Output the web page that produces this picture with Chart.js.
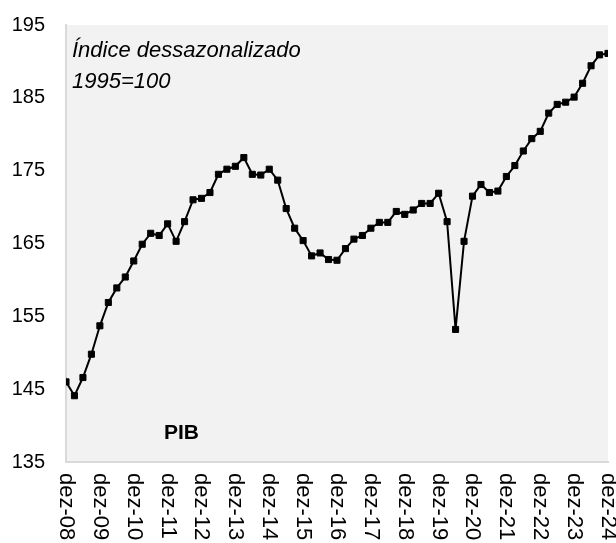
<!DOCTYPE html>
<html>
<head>
<meta charset="utf-8">
<script src="https://cdn.jsdelivr.net/npm/chart.js@4.4.1/dist/chart.umd.min.js"></script>
<style>
  html, body { margin: 0; padding: 0; background: #fff; }
  #caixa { width: 616px; height: 543px; }
</style>
</head>
<body>
<div id="caixa"><canvas id="pibChart"></canvas></div>
<script>
// trimestres (o primeiro fica fora do eixo, só a linha entra pela esquerda)
const trimestres = [
  "set-08", "dez-08",
  "mar-09", "jun-09", "set-09", "dez-09",
  "mar-10", "jun-10", "set-10", "dez-10",
  "mar-11", "jun-11", "set-11", "dez-11",
  "mar-12", "jun-12", "set-12", "dez-12",
  "mar-13", "jun-13", "set-13", "dez-13",
  "mar-14", "jun-14", "set-14", "dez-14",
  "mar-15", "jun-15", "set-15", "dez-15",
  "mar-16", "jun-16", "set-16", "dez-16",
  "mar-17", "jun-17", "set-17", "dez-17",
  "mar-18", "jun-18", "set-18", "dez-18",
  "mar-19", "jun-19", "set-19", "dez-19",
  "mar-20", "jun-20", "set-20", "dez-20",
  "mar-21", "jun-21", "set-21", "dez-21",
  "mar-22", "jun-22", "set-22", "dez-22",
  "mar-23", "jun-23", "set-23", "dez-23",
  "mar-24", "jun-24", "set-24", "dez-24"
];

const pib = [
  152.0, 146.0,
  144.1, 146.6, 149.8, 153.7,
  156.9, 158.9, 160.4, 162.6,
  164.9, 166.4, 166.1, 167.7,
  165.3, 168.0, 171.0, 171.2,
  172.0, 174.5, 175.2, 175.6,
  176.8, 174.5, 174.4, 175.2,
  173.7, 169.8, 167.1, 165.4,
  163.3, 163.7, 162.8, 162.7,
  164.3, 165.6, 166.1, 167.1,
  167.9, 167.9, 169.4, 169.0,
  169.6, 170.5, 170.5, 171.9,
  168.0, 153.2, 165.3, 171.5,
  173.1, 172.0, 172.2, 174.2,
  175.7, 177.7, 179.4, 180.4,
  182.9, 184.1, 184.4, 185.1,
  187.0, 189.4, 190.9, 191.1
];

const rotulosX = [
  "dez-08", "dez-09", "dez-10", "dez-11", "dez-12", "dez-13", "dez-14", "dez-15", "dez-16",
  "dez-17", "dez-18", "dez-19", "dez-20", "dez-21", "dez-22", "dez-23", "dez-24"
];

const eixoYMin = 135;
const eixoYMax = 195;
const eixoYPasso = 10;

const fonte = "Arial, 'Liberation Sans', sans-serif";

// fundo cinza da área do gráfico
const fundo = {
  id: "fundo",
  beforeDraw(chart) {
    const a = chart.chartArea;
    const ctx = chart.ctx;
    ctx.save();
    ctx.fillStyle = "#f2f2f2";
    ctx.fillRect(a.left, a.top, a.right - a.left, a.bottom - a.top);
    ctx.restore();
  }
};

// rótulos do eixo x girados no sentido horário, como no Excel
const rotulosVerticais = {
  id: "rotulosVerticais",
  afterDraw(chart) {
    const ctx = chart.ctx;
    const x = chart.scales.x;
    ctx.save();
    ctx.font = "22px " + fonte;
    ctx.fillStyle = "#000";
    ctx.textAlign = "left";
    ctx.textBaseline = "middle";
    rotulosX.forEach(r => {
      const px = x.getPixelForValue(trimestres.indexOf(r));
      ctx.save();
      ctx.translate(px, chart.chartArea.bottom + 11);
      ctx.rotate(Math.PI / 2);
      ctx.fillText(r, 0, 0);
      ctx.restore();
    });
    ctx.restore();
  }
};

const textos = {
  id: "textos",
  afterDraw(chart) {
    const ctx = chart.ctx;
    const a = chart.chartArea;
    ctx.save();
    ctx.fillStyle = "#000";
    ctx.textAlign = "left";
    ctx.textBaseline = "alphabetic";
    ctx.font = "italic 22px " + fonte;
    ctx.fillText("Índice dessazonalizado", a.left + 6, a.top + 32);
    ctx.fillText("1995=100", a.left + 6, a.top + 63);
    ctx.font = "bold 21px " + fonte;
    ctx.fillText("PIB", a.left + 98, a.bottom - 23);
    ctx.restore();
  }
};

function dibujarGrafica() {
  const ctx = document.getElementById("pibChart").getContext("2d");
  new Chart(ctx, {
    type: "line",
    data: {
      labels: trimestres,
      datasets: [{
        label: "PIB",
        data: pib,
        borderColor: "#000",
        borderWidth: 2,
        backgroundColor: "#000",
        pointStyle: "rect",
        pointRadius: 4.3,
        pointBorderWidth: 1,
        pointBorderColor: "#000",
        pointBackgroundColor: "#000",
        tension: 0
      }]
    },
    options: {
      responsive: true,
      maintainAspectRatio: false,
      animation: false,
      layout: { padding: { top: 25, right: 8, left: 0, bottom: 0 } },
      plugins: {
        legend: { display: false },
        tooltip: { enabled: false }
      },
      scales: {
        x: {
          min: "dez-08",
          max: "dez-24",
          offset: false,
          grid: { display: false, drawTicks: false },
          border: { display: true, color: "#d9d9d9", width: 2 },
          ticks: { display: false },
          afterFit(s) {
            s.height = 81;
            s.paddingLeft = 0;
            s.paddingRight = 0;
          }
        },
        y: {
          min: eixoYMin,
          max: eixoYMax,
          grid: { display: false, drawTicks: false },
          border: { display: true, color: "#d9d9d9", width: 2 },
          ticks: {
            stepSize: eixoYPasso,
            padding: 21,
            color: "#000",
            font: { family: fonte, size: 20 }
          },
          afterFit(s) {
            s.width = 66;
            s.paddingTop = 0;
            s.paddingBottom = 0;
          }
        }
      }
    },
    plugins: [fundo, rotulosVerticais, textos]
  });
}

addEventListener("load", dibujarGrafica, false);
</script>
</body>
</html>
